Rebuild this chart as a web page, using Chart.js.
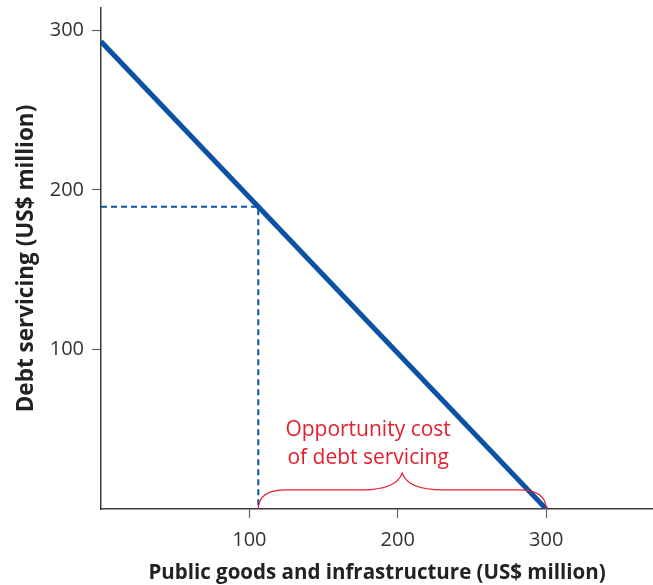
<!DOCTYPE html>
<html>
<head>
<meta charset="utf-8">
<script src="https://cdn.jsdelivr.net/npm/chart.js@4"></script>
<style>
  html, body { margin: 0; padding: 0; background: #fff; }
  #wrap { width: 653px; height: 585px; }
</style>
</head>
<body>
<div id="wrap"><canvas id="myChart"></canvas></div>
<script>
// frontier: public goods (x) vs debt servicing (y), US$ million
const frontierX = [0, 300]
const frontierY = [293, 0]
// chosen point, shown with dashed guides
const chosenX = [0, 106, 106]
const chosenY = [189.5, 189.5, 0]
const xTicks = [100, 200, 300]
const yTicks = [100, 200, 300]
// brace under the x axis: from the chosen point to the end of the frontier
const braceFrom = [106]
const braceTo = [300]
const braceLabel = ['Opportunity cost', 'of debt servicing']

const blue = '#0b52a5'
const red = '#e3202f'
const axisGrey = '#3a3a3a'
const fontFam = '"Open Sans", "Noto Sans", sans-serif'

const toPoints = (xs, ys) => xs.map((x, i) => ({ x: x, y: ys[i] }))

const bracePlugin = {
    id: 'brace',
    afterDatasetsDraw(chart) {
        const ctx = chart.ctx
        const xs = chart.scales.x
        const ys = chart.scales.y
        const L = xs.getPixelForValue(braceFrom[0])
        const R = xs.getPixelForValue(braceTo[0])
        const M = (L + R) / 2
        const B = ys.getPixelForValue(0)
        const Y1 = ys.getPixelForValue(12)
        const Yt = ys.getPixelForValue(22.5)
        ctx.save()
        ctx.strokeStyle = red
        ctx.lineWidth = 1.3
        ctx.beginPath()
        ctx.moveTo(L, B)
        ctx.quadraticCurveTo(L, Y1, L + 28, Y1)
        ctx.lineTo(M - 40, Y1)
        ctx.quadraticCurveTo(M - 6, Y1, M, Yt)
        ctx.quadraticCurveTo(M + 6, Y1, M + 40, Y1)
        ctx.lineTo(R - 28, Y1)
        ctx.quadraticCurveTo(R, Y1, R, B)
        ctx.stroke()

        ctx.fillStyle = red
        ctx.font = '21px ' + fontFam
        ctx.textAlign = 'center'
        ctx.textBaseline = 'alphabetic'
        const cx = xs.getPixelForValue(180)
        ctx.fillText(braceLabel[0], cx, ys.getPixelForValue(46))
        ctx.fillText(braceLabel[1], cx, ys.getPixelForValue(28.4))
        ctx.restore()
    }
}

let myChart = document.getElementById('myChart').getContext('2d')
let frontierChart = new Chart(myChart, {
    type: 'line',
    data: {
        datasets: [{
            data: toPoints(frontierX, frontierY),
            borderColor: blue,
            borderWidth: 5,
            pointRadius: 0,
            order: 0
        }, {
            data: toPoints(chosenX, chosenY),
            borderColor: blue,
            borderWidth: 2,
            borderDash: [6, 4],
            pointRadius: 0,
            order: 1
        }]
    },
    options: {
        responsive: true,
        maintainAspectRatio: false,
        animation: false,
        layout: { padding: { top: 8, right: 0, left: 0, bottom: 0 } },
        plugins: {
            legend: { display: false },
            tooltip: { enabled: false }
        },
        scales: {
            x: {
                type: 'linear',
                min: 0,
                max: 372,
                afterBuildTicks: scale => { scale.ticks = xTicks.map(v => ({ value: v })) },
                afterFit: scale => {
                    scale.height = 76
                    scale.paddingLeft = 0
                    scale.paddingRight = 0
                },
                border: { color: axisGrey, width: 1.5 },
                grid: { drawOnChartArea: false, tickLength: 9, tickColor: '#666', tickWidth: 1.2 },
                ticks: {
                    color: '#333',
                    padding: 10,
                    maxRotation: 0,
                    font: { family: fontFam, size: 20 }
                },
                title: {
                    display: true,
                    text: 'Public goods and infrastructure (US$ million)',
                    color: '#222',
                    padding: { top: 4, bottom: 0 },
                    font: { family: fontFam, size: 20.5, weight: 'bold' }
                }
            },
            y: {
                type: 'linear',
                min: 0,
                max: 314,
                afterBuildTicks: scale => { scale.ticks = yTicks.map(v => ({ value: v })) },
                afterFit: scale => {
                    scale.width = 101
                    scale.paddingTop = 0
                    scale.paddingBottom = 0
                },
                border: { color: axisGrey, width: 1.5 },
                grid: { drawOnChartArea: false, tickLength: 9, tickColor: '#666', tickWidth: 1.2 },
                ticks: {
                    color: '#333',
                    padding: 8,
                    font: { family: fontFam, size: 20 }
                },
                title: {
                    display: true,
                    text: 'Debt servicing (US$ million)',
                    color: '#222',
                    padding: { top: 13, bottom: 4 },
                    font: { family: fontFam, size: 22.5, weight: 'bold' }
                }
            }
        }
    },
    plugins: [bracePlugin]
})
</script>
</body>
</html>
